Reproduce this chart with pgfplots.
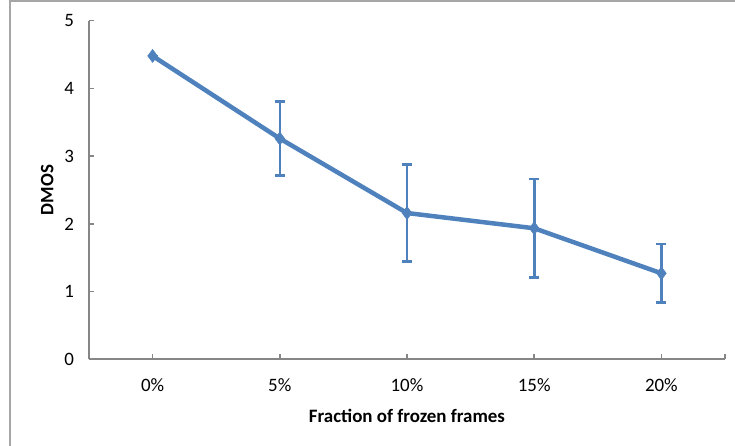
\documentclass[border=0pt]{standalone}
\usepackage{fontspec}
\setmainfont{Carlito}
\usepackage{pgfplots}
\pgfplotsset{compat=1.18}
\definecolor{xlblue}{HTML}{4F81BD}
\definecolor{axgray}{HTML}{868686}
\definecolor{framegray}{HTML}{A6A6A6}
\begin{document}
\begin{tikzpicture}
\begin{axis}[
  scale only axis,
  width=636bp, height=338.6bp,
  xmin=-0.5, xmax=4.5, ymin=0, ymax=5,
  axis lines=left,
  axis line style={-, axgray, line width=2bp},
  xtick={0,1,2,3,4},
  xticklabels={0\%,5\%,10\%,15\%,20\%},
  extra x ticks={4.5},
  extra x tick labels={},
  ytick={0,1,2,3,4,5},
  tick style={axgray, line width=1.6bp},
  major tick length=5bp,
  tick align=inside,
  /pgf/number format/assume math mode=true,
  tick label style={font=\fontsize{19}{22}\selectfont, black},
  xticklabel style={yshift=-16bp},
  yticklabel style={xshift=-11.5bp},
  xlabel={\textbf{Fraction of frozen frames}},
  ylabel={\textbf{DMOS}},
  label style={font=\fontsize{19}{22}\selectfont},
  xlabel style={yshift=-10bp},
  ylabel style={yshift=4bp},
  clip=false,
]
\addplot[
  color=xlblue, line width=4.5bp,
  mark=diamond*, mark size=6.5bp, mark options={solid, fill=xlblue, line width=0.5bp},
  error bars/.cd, y dir=both, y explicit,
  error bar style={line width=2.6bp, xlblue},
  error mark options={rotate=90, mark size=5bp, line width=2.6bp, xlblue},
] coordinates {
  (0,4.48) +- (0,0)
  (1,3.26) +- (0,0.545)
  (2,2.16) +- (0,0.72)
  (3,1.935) +- (0,0.73)
  (4,1.27) +- (0,0.43)
};
\end{axis}
\draw[framegray, line width=1.5bp]
  ([shift={(-79bp,-100bp)}]current axis.south west) --
  ([shift={(-79bp,19.7bp)}]current axis.north west) --
  ([shift={(30bp,19.7bp)}]current axis.north east);
\pgfresetboundingbox
\useasboundingbox ([shift={(-89bp,-86.7bp)}]current axis.south west) rectangle ([shift={(10bp,20.7bp)}]current axis.north east);
\end{tikzpicture}
\end{document}
